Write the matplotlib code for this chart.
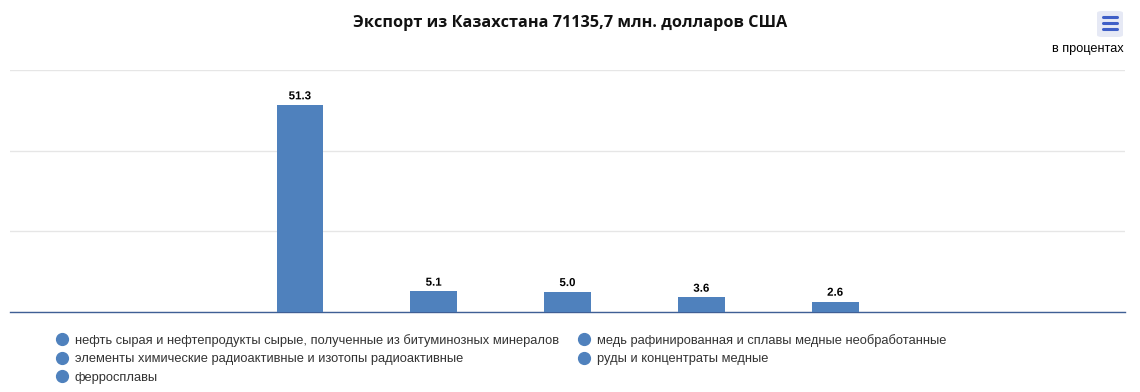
import numpy as np
import matplotlib.pyplot as plt
from matplotlib.lines import Line2D
from matplotlib.patches import FancyBboxPatch
import matplotlib.patheffects as pe

plt.rcParams['font.family'] = ['Liberation Sans', 'DejaVu Sans']

# Экспорт по товарным группам, в процентах
categories = [
    'нефть сырая и нефтепродукты сырые, полученные из битуминозных минералов',
    'медь рафинированная и сплавы медные необработанные',
    'элементы химические радиоактивные и изотопы радиоактивные',
    'руды и концентраты медные',
    'ферросплавы',
]
values = [51.3, 5.1, 5.0, 3.6, 2.6]
title = 'Экспорт из Казахстана 71135,7 млн. долларов США'
bar_color = '#4f81bd'

fig = plt.figure(figsize=(11.4, 3.92), dpi=100)
ax = fig.add_axes([10 / 1140, 1 - 312 / 392, 1115 / 1140, 242 / 392])

x = np.arange(len(values))
bars = ax.bar(x, values, width=0.35, color=bar_color, zorder=3)
for b, v in zip(bars, values):
    ax.annotate(f'{v:.1f}', (b.get_x() + b.get_width() / 2, v),
                xytext=(0, 2), textcoords='offset points',
                ha='center', va='bottom', fontsize=8.3, fontweight='bold',
                color='black',
                path_effects=[pe.withStroke(linewidth=2, foreground='white')])

ax.set_xlim(-2.167, 6.166)
ax.set_ylim(0, 60)
ax.set_yticks([0, 20, 40, 60])
ax.grid(axis='y', color='#e6e6e6', linewidth=1, zorder=0)
ax.tick_params(left=False, bottom=False, labelleft=False, labelbottom=False)
for s in ['top', 'right', 'left']:
    ax.spines[s].set_visible(False)
ax.spines['bottom'].set_color('#3f5f95')
ax.spines['bottom'].set_linewidth(1)

fig.text(0.5, 1 - 23 / 392, title, ha='center', va='center',
         fontsize=11.7, fontweight='bold', color='#111111',
         family=['Open Sans', 'DejaVu Sans'])
fig.text(1124 / 1140, 1 - 49 / 392, 'в процентах', ha='right', va='center',
         fontsize=9.2, color='black')

# menu button
btn = FancyBboxPatch((1097 / 1140, 1 - 37 / 392), 26 / 1140, 26 / 392,
                     boxstyle='round,pad=0,rounding_size=0.005',
                     transform=fig.transFigure, facecolor='#e6e9f5',
                     edgecolor='none')
fig.patches.append(btn)
for yy in [17, 23, 29]:
    fig.add_artist(Line2D([1103 / 1140, 1117 / 1140], [1 - yy / 392] * 2,
                          color='#3f5fc7', linewidth=2.2,
                          solid_capstyle='round'))

handles = [Line2D([], [], marker='o', linestyle='none', markersize=8.5,
                  markerfacecolor=bar_color, markeredgecolor=bar_color)
           for _ in categories]
order = [0, 2, 4, 1, 3]
fig.legend([handles[i] for i in order], [categories[i] for i in order],
           ncol=2, loc='upper left', bbox_to_anchor=(57 / 1140, 1 - 334 / 392),
           frameon=False, fontsize=9.25, handlelength=0.8, handletextpad=0.6,
           columnspacing=1.55, labelspacing=0.5, borderaxespad=0,
           borderpad=0, labelcolor='#333333')

fig.savefig('out.png', dpi=100)
